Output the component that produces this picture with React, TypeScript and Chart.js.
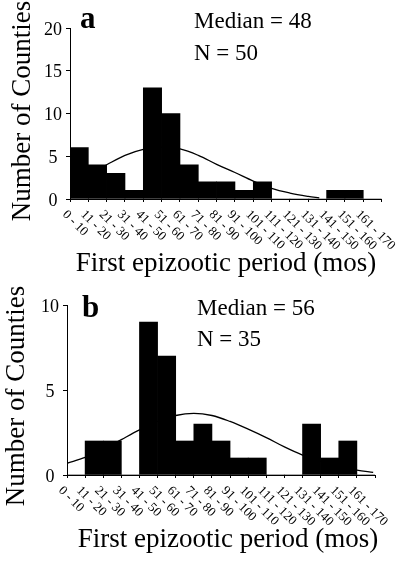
import React, { useEffect, useRef } from "react";
import { Chart, registerables } from "chart.js";

Chart.register(...registerables);

// ---------- data ----------
const binLabels = [
  "0 - 10", "11 - 20", "21 - 30", "31 - 40", "41 - 50", "51 - 60", "61 - 70",
  "71 - 80", "81 - 90", "91 - 100", "101 - 110", "111 - 120", "121 - 130",
  "131 - 140", "141 - 150", "151 - 160", "161 - 170",
];

const countsA = [6, 4, 3, 1, 13, 10, 4, 2, 2, 1, 2, 0, 0, 0, 1, 1, 0];
const countsB = [0, 2, 2, 0, 9, 7, 2, 3, 2, 1, 1, 0, 0, 3, 1, 2, 0];

// fitted curve (x in bin units from the left axis edge)
const curveAX = [1.5, 2, 3, 4, 5, 6, 7, 8, 9, 10, 11, 12, 13, 13.6];
const curveAY = [3.4, 4.0, 5.1, 5.8, 6.05, 5.85, 5.1, 4.05, 3.1, 2.1, 1.25, 0.7, 0.3, 0.12];

const curveBX = [0, 1, 2, 3, 4, 5, 6, 7, 8, 9, 10, 11, 12, 13, 14, 15, 16, 16.9];
const curveBY = [0.69, 1.04, 1.5, 2.08, 2.65, 3.15, 3.5, 3.63, 3.5, 3.15, 2.7, 2.2, 1.65, 1.17, 0.8, 0.5, 0.29, 0.16];

const yMaxA = 20;
const yMaxB = 10;
const yStep = 5;

const panelTextA = { letter: "a", median: "Median = 48", n: "N = 50" };
const panelTextB = { letter: "b", median: "Median = 56", n: "N = 35" };
const yTitle = "Number of Counties";
const xTitle = "First epizootic period (mos)";

const SERIF = "'Liberation Serif', 'Times New Roman', serif";

type PanelLayout = {
  height: number;
  padding: { left: number; right: number; top: number; bottom: number };
  letterPos: [number, number];
  medianPos: [number, number];
  nPos: [number, number];
  yTitleX: number;
  yTitleCY: number;
  xTitleCX: number;
  xTitleY: number;
  tickDx: number;
  tickDy: number;
};

function Panel(props: {
  counts: number[];
  curveX: number[];
  curveY: number[];
  yMax: number;
  texts: { letter: string; median: string; n: string };
  layout: PanelLayout;
  top: number;
}) {
  const ref = useRef<HTMLCanvasElement | null>(null);
  const { counts, curveX, curveY, yMax, texts, layout, top } = props;

  useEffect(() => {
    if (!ref.current) return;
    const textPlugin = {
      id: "panelText",
      afterDraw(chart: any) {
        const ctx = chart.ctx as CanvasRenderingContext2D;
        const xs = chart.scales.x;
        const bottom = chart.chartArea.bottom;
        const binW = (chart.chartArea.right - chart.chartArea.left) / binLabels.length;
        ctx.save();
        ctx.fillStyle = "#000";
        // rotated bin labels
        ctx.font = `13px ${SERIF}`;
        ctx.textAlign = "left";
        ctx.textBaseline = "top";
        binLabels.forEach((lab, i) => {
          const x = xs.getPixelForValue(i) - binW / 2 + layout.tickDx;
          const y = bottom + layout.tickDy;
          ctx.save();
          ctx.translate(x, y);
          ctx.rotate(Math.PI / 4);
          ctx.fillText(lab, 0, 0);
          ctx.restore();
        });
        // x title
        ctx.font = `27px ${SERIF}`;
        ctx.textAlign = "center";
        ctx.textBaseline = "alphabetic";
        ctx.fillText(xTitle, layout.xTitleCX, layout.xTitleY);
        // y title
        ctx.save();
        ctx.translate(layout.yTitleX, layout.yTitleCY);
        ctx.rotate(-Math.PI / 2);
        ctx.textAlign = "center";
        ctx.textBaseline = "alphabetic";
        ctx.fillText(yTitle, 0, 0);
        ctx.restore();
        // panel letter
        ctx.textAlign = "left";
        ctx.font = `bold 31px ${SERIF}`;
        ctx.fillText(texts.letter, layout.letterPos[0], layout.letterPos[1]);
        ctx.font = `23px ${SERIF}`;
        ctx.fillText(texts.median, layout.medianPos[0], layout.medianPos[1]);
        ctx.fillText(texts.n, layout.nPos[0], layout.nPos[1]);
        ctx.restore();
      },
    };

    const chart = new Chart(ref.current, {
      type: "bar",
      data: {
        labels: binLabels,
        datasets: [
          {
            type: "bar",
            data: counts,
            backgroundColor: "#000",
            borderWidth: 0,
            barPercentage: 1,
            categoryPercentage: 1,
            grouped: false,
            xAxisID: "x",
            yAxisID: "y",
            order: 1,
          } as any,
          {
            type: "line",
            data: curveX.map((x, i) => ({ x, y: curveY[i] })),
            borderColor: "#000",
            borderWidth: 1.3,
            pointRadius: 0,
            tension: 0.35,
            fill: false,
            xAxisID: "x2",
            yAxisID: "y",
            order: 2,
          } as any,
        ],
      },
      options: {
        animation: false,
        responsive: false,
        maintainAspectRatio: false,
        events: [],
        layout: { padding: layout.padding },
        plugins: { legend: { display: false }, tooltip: { enabled: false } },
        scales: {
          x: {
            type: "category",
            offset: true,
            grid: {
              offset: true,
              drawOnChartArea: false,
              drawTicks: true,
              tickLength: 3,
              color: "#000",
            },
            border: { display: true, color: "#000", width: 1 },
            ticks: { display: false },
            afterFit: (s: any) => {
              s.height = 10;
            },
          },
          x2: {
            type: "linear",
            display: false,
            min: 0,
            max: binLabels.length,
            offset: false,
          },
          y: {
            type: "linear",
            min: 0,
            max: yMax,
            ticks: {
              stepSize: yStep,
              color: "#000",
              font: { family: SERIF, size: 18 },
              crossAlign: "center",
              padding: 4,
              labelOffset: 2,
            },
            grid: {
              drawOnChartArea: false,
              drawTicks: true,
              tickLength: 4,
              color: "#000",
            },
            border: { display: true, color: "#000", width: 1 },
            afterFit: (s: any) => {
              s.width = 40;
            },
          },
        },
      } as any,
      plugins: [textPlugin],
    });
    return () => chart.destroy();
  }, []);

  return (
    <canvas
      ref={ref}
      width={409}
      height={layout.height}
      style={{ position: "absolute", left: 0, top, width: 409, height: layout.height, display: "block" }}
    />
  );
}

const layoutA: PanelLayout = {
  height: 280,
  padding: { left: 30, right: 27.4, top: 28, bottom: 71 },
  letterPos: [80, 28],
  medianPos: [194, 28],
  nPos: [194, 60],
  yTitleX: 30,
  yTitleCY: 111,
  xTitleCX: 226,
  xTitleY: 271,
  tickDx: -1,
  tickDy: 9,
};

const layoutB: PanelLayout = {
  height: 281,
  padding: { left: 27, right: 34, top: 25, bottom: 76 },
  letterPos: [82, 37],
  medianPos: [197, 35],
  nPos: [197, 66],
  yTitleX: 24,
  yTitleCY: 116,
  xTitleCX: 228,
  xTitleY: 267,
  tickDx: -2,
  tickDy: 9,
};

export default function App() {
  return (
    <div style={{ position: "absolute", left: 0, top: 0, width: 409, height: 561, background: "#fff" }}>
      <Panel counts={countsA} curveX={curveAX} curveY={curveAY} yMax={yMaxA} texts={panelTextA} layout={layoutA} top={0} />
      <Panel counts={countsB} curveX={curveBX} curveY={curveBY} yMax={yMaxB} texts={panelTextB} layout={layoutB} top={280} />
    </div>
  );
}
